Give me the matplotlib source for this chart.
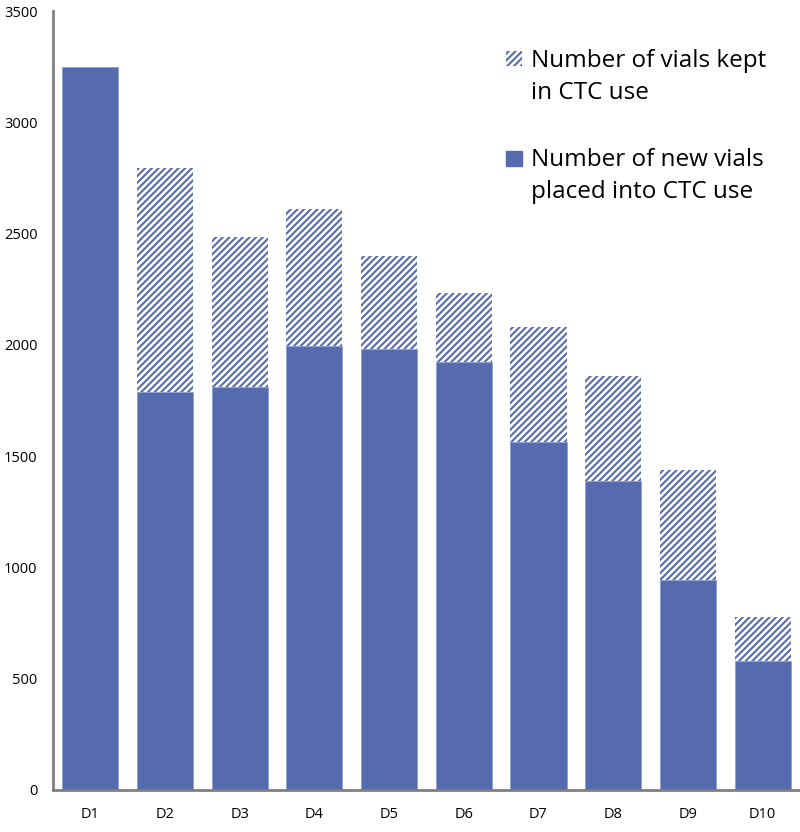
import matplotlib.pyplot as plt
from matplotlib.patches import Patch, Rectangle
from matplotlib.legend_handler import HandlerPatch

categorias = ["D1", "D2", "D3", "D4", "D5", "D6", "D7", "D8", "D9", "D10"]
nuevos = [3250, 1788, 1811, 1995, 1981, 1923, 1564, 1388, 944, 580]  # new vials placed
mantenidos = [0, 1007, 674, 615, 418, 310, 518, 472, 494, 197]  # vials kept
y_ticks = [0, 500, 1000, 1500, 2000, 2500, 3000, 3500]

azul = "#566BAE"
plt.rcParams["font.family"] = ["Open Sans", "DejaVu Sans"]
plt.rcParams["hatch.linewidth"] = 1.5
plt.rcParams["hatch.color"] = azul

fig = plt.figure(figsize=(8, 8.32), dpi=100)
ax = fig.add_axes([0.066, 0.0505, 0.934, 0.936])

x = range(len(categorias))
ax.bar(x, nuevos, width=0.75, color=azul, edgecolor="#8CA0D2", linewidth=0.6)
ax.bar(x, mantenidos, width=0.75, bottom=nuevos, color="white",
       edgecolor=azul, linewidth=0, hatch="/////")

ax.set_xlim(-0.5, len(categorias) - 0.5)
ax.set_ylim(0, 3500)
ax.set_yticks(y_ticks)
ax.set_xticks(list(x))
ax.set_xticklabels(categorias)
ax.tick_params(axis="both", length=0, labelsize=10.5, colors="black")
ax.tick_params(axis="y", pad=11)
ax.tick_params(axis="x", pad=12)

for lado in ["top", "right"]:
    ax.spines[lado].set_visible(False)
for lado in ["left", "bottom"]:
    ax.spines[lado].set_color("#808080")
    ax.spines[lado].set_linewidth(2)


# cuadrito de la leyenda alineado con la primera linea del texto
def cuadro_arriba(legend, orig_handle, xdescent, ydescent, width, height, fontsize):
    lado = 0.62 * fontsize
    return Rectangle((-xdescent + 0.12 * fontsize, -ydescent + height - lado + 0.24 * fontsize),
                     lado, lado)


manijas = [Patch(facecolor="white", edgecolor=azul, linewidth=0, hatch="/////"),
           Patch(facecolor=azul, edgecolor=azul)]
etiquetas = ["Number of vials kept\nin CTC use",
             "Number of new vials\nplaced into CTC use"]
leg = ax.legend(manijas, etiquetas, loc="upper left", bbox_to_anchor=(0.574, 0.98),
                frameon=False, fontsize=17.5, handlelength=0.62, handleheight=2.3,
                handletextpad=0.5, labelspacing=1.8,
                handler_map={Patch: HandlerPatch(patch_func=cuadro_arriba)})
for t in leg.get_texts():
    t.set_linespacing(1.44)

fig.savefig("out.png", dpi=100)
